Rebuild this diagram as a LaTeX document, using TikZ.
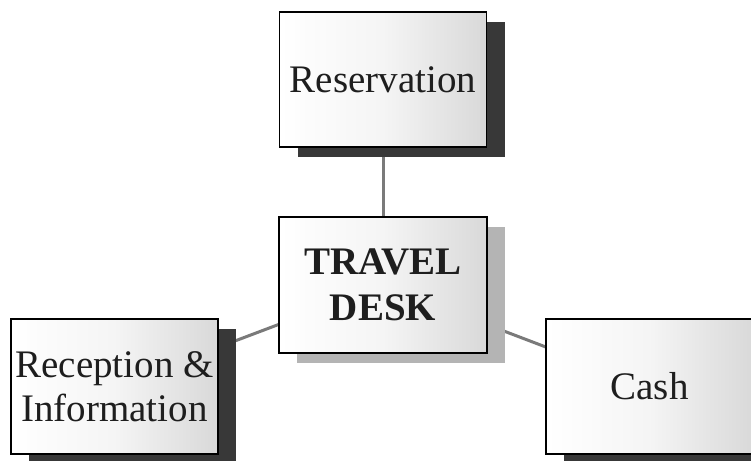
\documentclass[tikz,border=0pt]{standalone}
\usepackage{fontspec}
\setmainfont{Liberation Serif}
\usetikzlibrary{shadows,backgrounds}
\definecolor{shadowdark}{HTML}{383838}
\definecolor{shadowlight}{HTML}{B4B4B4}
\definecolor{linkgray}{HTML}{7A7A7A}
\definecolor{inkgray}{HTML}{1E1E1E}
\tikzset{
  unit/.style={draw=black, line width=1.6pt, inner sep=0pt,
    minimum width=207pt, minimum height=135pt, align=center,
    text=inkgray, font=\fontsize{39}{44}\selectfont,
    left color=white, right color=black!15, middle color=black!4},
  darkshade/.style={drop shadow={shadow xshift=18pt, shadow yshift=-10pt,
    fill=shadowdark, opacity=1}},
  lightshade/.style={drop shadow={shadow xshift=18pt, shadow yshift=-10pt,
    fill=shadowlight, opacity=1}},
  link/.style={draw=linkgray, line width=3pt},
}
\begin{document}
\begin{tikzpicture}[x=1pt,y=-1pt]
  \useasboundingbox (0,0) rectangle (751,460);

  % boxes of the desk layout
  \node[unit, darkshade] (res) at (383,79.5) {Reservation};
  \node[unit, lightshade, minimum width=208pt, minimum height=136pt,
        font=\bfseries\fontsize{39}{46}\selectfont] (desk) at (383,285) {TRAVEL\\DESK};
  \node[unit, darkshade] (rec) at (114.5,386.5) {Reception \&\\Information};
  \node[unit, darkshade] (cash) at (649.5,386.5) {Cash};

  % white page, then links running centre to centre behind the boxes
  \begin{scope}[on background layer]
    \fill[white] (0,0) rectangle (751,460);
    \draw[link] (desk.center) -- (res.center);
    \draw[link] (desk.center) -- (rec.center);
    \draw[link] (desk.center) -- (cash.center);
  \end{scope}
\end{tikzpicture}
\end{document}
